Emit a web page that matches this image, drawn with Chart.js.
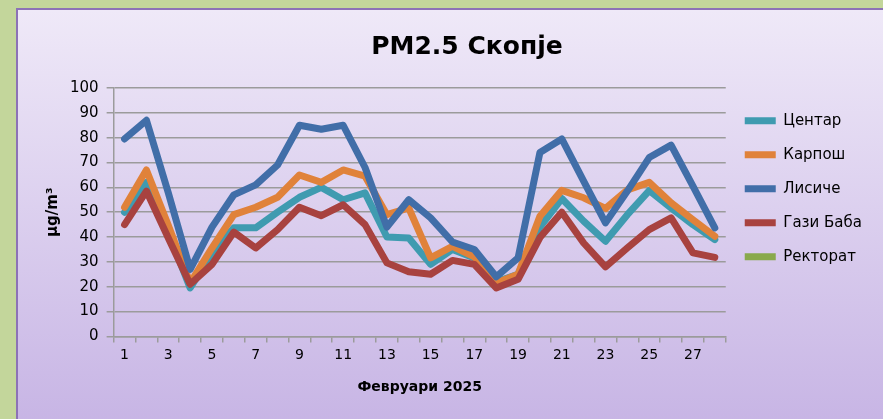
<!DOCTYPE html>
<html>
<head>
<meta charset="utf-8">
<script src="https://cdn.jsdelivr.net/npm/chart.js@4/dist/chart.umd.min.js"></script>
<style>
  body { margin:0; background:#c3d69b; overflow:hidden; width:883px; height:419px; }
  #box { position:absolute; left:16px; top:8px; width:930px; height:430px; box-sizing:border-box;
         border:2px solid #8c72b6; background:linear-gradient(#efe9f8, #c6b3e4); }
  #myChart { position:absolute; left:0; top:0; }
</style>
</head>
<body>
<div id="box"><canvas id="myChart" width="922" height="409"></canvas></div>
<script>
// PM2.5 values per station, Feb 2025
const days = [];
for (let d = 1; d <= 28; d++) days.push(String(d));

const centar   = [50, 62, 42, 19.5, 33.5, 43.7, 43.7, 50, 56, 60, 55, 57.8, 40, 39.6, 29, 35, 31.6, 22, 25, 44, 55.5, 46.4, 38.3, 49, 58.7, 51.7, 45, 39];
const karposh  = [52, 67, 44.7, 21.5, 35.6, 49, 52, 56, 65, 62, 67, 64.5, 49, 51.7, 31.6, 36.3, 32, 21.5, 25, 48.4, 58.8, 55.8, 51.5, 59, 62, 53.8, 47, 40.3];
const lisice   = [79.5, 87, 57.8, 27, 44, 57, 61, 69, 85, 83.4, 85, 68, 44, 55, 47.7, 38, 35, 24, 31.6, 74, 79.5, 62.5, 45.7, 58.5, 72, 77, 60.5, 43.7];
const gaziBaba = [45, 58.5, 39.6, 21, 29, 42, 35.6, 43, 52, 48.6, 53, 45, 29.6, 26, 25, 30.6, 29, 19.5, 23, 39.8, 50, 37.6, 28, 35.6, 43, 47.7, 33.6, 31.8];
const rektorat = [null, null, null, null, null, null, null, null, null, null, null, null, null, null, null, null, null, null, null, null, null, null, null, null, null, null, null, null];

const yTicks = [0, 10, 20, 30, 40, 50, 60, 70, 80, 90, 100];

function series(label, data, color, order) {
  return {
    label: label, data: data, borderColor: color, backgroundColor: color,
    borderWidth: 7, borderCapStyle: 'round', borderJoinStyle: 'round',
    pointRadius: 0, tension: 0, order: order, spanGaps: false
  };
}

const fnt = "'DejaVu Sans', sans-serif";

// title sits a bit right of the padded box in the original
const shiftTitle = {
  id: 'shiftTitle',
  afterLayout: function (chart) {
    chart.titleBlock.left += 12;
    chart.titleBlock.right += 12;
  }
};

const ctx = document.getElementById('myChart').getContext('2d');
new Chart(ctx, {
  type: 'line',
  data: {
    labels: days,
    datasets: [
      series('Центар', centar, '#3f9bb0', 5),
      series('Карпош', karposh, '#e0823a', 4),
      series('Лисиче', lisice, '#416ea8', 3),
      series('Гази Баба', gaziBaba, '#a8423f', 2),
      series('Ректорат', rektorat, '#89a94c', 1)
    ]
  },
  plugins: [shiftTitle],
  options: {
    responsive: false,
    animation: false,
    layout: { padding: { left: 20, right: 68, top: 0, bottom: 23 } },
    plugins: {
      title: {
        display: true, text: 'PM2.5 Скопје', color: '#000',
        font: { family: fnt, size: 25, weight: 'bold' },
        padding: { top: 22, bottom: 26 }
      },
      legend: {
        position: 'right', align: 'start', fullSize: false,
        title: { display: true, text: ' ', font: { size: 1 }, padding: { top: 0, bottom: 5 } },
        labels: {
          usePointStyle: true, pointStyle: 'line', pointStyleWidth: 31,
          boxHeight: 15, padding: 19, color: '#000',
          font: { family: fnt, size: 15 },
          sort: function (a, b) { return a.datasetIndex - b.datasetIndex; }
        }
      },
      tooltip: { enabled: false }
    },
    scales: {
      x: {
        offset: true,
        grid: { offset: true, drawOnChartArea: false, drawTicks: true, tickLength: 6, color: '#9b9b9b', lineWidth: 1.5 },
        border: { color: '#9b9b9b', width: 1.5 },
        ticks: {
          autoSkip: false, maxRotation: 0, padding: 5, color: '#000',
          font: { family: fnt, size: 14 },
          callback: function (v, i) { return i % 2 === 0 ? days[i] : ''; }
        },
        title: { display: true, text: 'Февруари 2025', color: '#000',
          font: { family: fnt, size: 14, weight: 'bold' }, padding: { top: 10, bottom: 0 } }
      },
      y: {
        min: 0, max: 100,
        afterBuildTicks: function (axis) { axis.ticks = yTicks.map(v => ({ value: v })); },
        grid: { color: '#9b9b9b', lineWidth: 1.5, tickLength: 7 },
        border: { color: '#9b9b9b', width: 1.5 },
        ticks: { padding: 8, color: '#000', font: { family: fnt, size: 15 } },
        title: { display: true, text: 'μg/m³', color: '#000',
          font: { family: fnt, size: 15, weight: 'bold' }, padding: { top: 6, bottom: 0 } }
      }
    }
  }
});
</script>
</body>
</html>
